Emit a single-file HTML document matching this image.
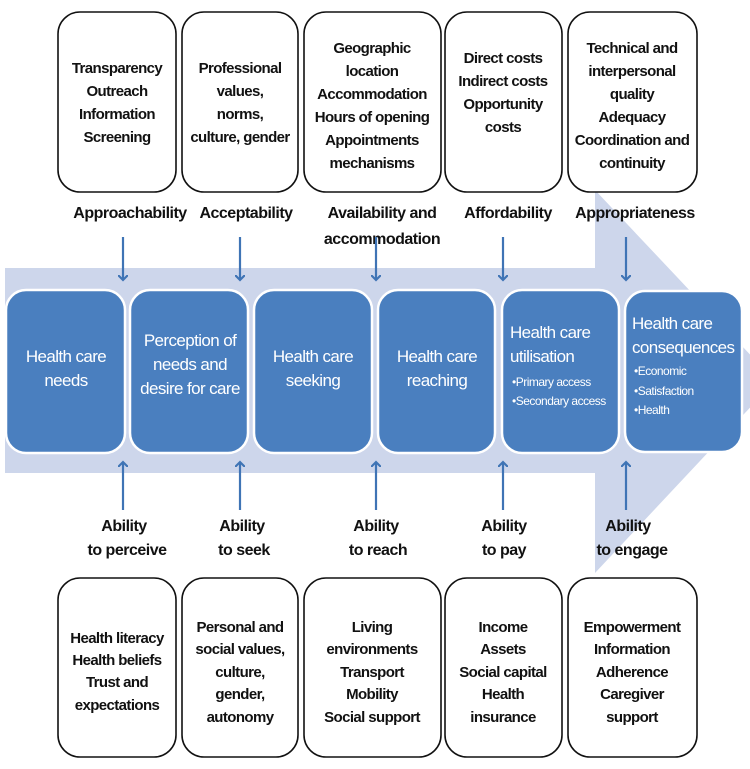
<!DOCTYPE html>
<html><head><meta charset="utf-8"><style>
html,body{margin:0;padding:0;background:#fff}
svg{display:block}
.k{font-family:"Liberation Sans",sans-serif;font-weight:bold;font-size:15px;fill:#111;text-anchor:middle;letter-spacing:-0.6px}
.l{font-family:"Liberation Sans",sans-serif;font-weight:bold;font-size:16px;fill:#111;text-anchor:middle;letter-spacing:-0.5px}
.w{font-family:"Liberation Sans",sans-serif;font-size:17px;fill:#fff;text-anchor:middle;letter-spacing:-0.6px}
.ws{font-family:"Liberation Sans",sans-serif;font-size:12px;fill:#fff;letter-spacing:-0.5px}
</style></head><body>
<svg width="750" height="769" viewBox="0 0 750 769" xmlns="http://www.w3.org/2000/svg">
<defs>
<marker id="a" markerWidth="10" markerHeight="10" refX="5" refY="5" orient="auto" markerUnits="userSpaceOnUse">
<path d="M0,0 L5,5 L0,10" fill="none" stroke="#3f74b5" stroke-width="2.2"/>
</marker>
</defs>
<polygon points="5,268 595,268 595,190 775,381 595,573 595,473 5,473" fill="#cdd6eb"/>
<g fill="#fff" stroke="#111" stroke-width="1.6">
<rect x="58" y="12" width="118" height="180" rx="22"/>
<rect x="182" y="12" width="116" height="180" rx="22"/>
<rect x="304" y="12" width="137" height="180" rx="22"/>
<rect x="445" y="12" width="117" height="180" rx="22"/>
<rect x="568" y="12" width="129" height="180" rx="22"/>
<rect x="58" y="578" width="118" height="179" rx="22"/>
<rect x="182" y="578" width="116" height="179" rx="22"/>
<rect x="304" y="578" width="137" height="179" rx="22"/>
<rect x="445" y="578" width="117" height="179" rx="22"/>
<rect x="568" y="578" width="129" height="179" rx="22"/>
</g>
<g class="k">
<text x="117" y="73">Transparency</text><text x="117" y="96">Outreach</text><text x="117" y="119">Information</text><text x="117" y="142">Screening</text>
<text x="240" y="73">Professional</text><text x="240" y="96">values,</text><text x="240" y="119">norms,</text><text x="240" y="142">culture, gender</text>
<text x="372" y="53">Geographic</text><text x="372" y="76">location</text><text x="372" y="99">Accommodation</text><text x="372" y="122">Hours of opening</text><text x="372" y="145">Appointments</text><text x="372" y="168">mechanisms</text>
<text x="503" y="63">Direct costs</text><text x="503" y="86">Indirect costs</text><text x="503" y="109">Opportunity</text><text x="503" y="132">costs</text>
<text x="632" y="53">Technical and</text><text x="632" y="76">interpersonal</text><text x="632" y="99">quality</text><text x="632" y="122">Adequacy</text><text x="632" y="145">Coordination and</text><text x="632" y="168">continuity</text>
<text x="117" y="643">Health literacy</text><text x="117" y="665">Health beliefs</text><text x="117" y="687">Trust and</text><text x="117" y="710">expectations</text>
<text x="240" y="632">Personal and</text><text x="240" y="654">social values,</text><text x="240" y="677">culture,</text><text x="240" y="699">gender,</text><text x="240" y="722">autonomy</text>
<text x="372" y="632">Living</text><text x="372" y="654">environments</text><text x="372" y="677">Transport</text><text x="372" y="699">Mobility</text><text x="372" y="722">Social support</text>
<text x="503" y="632">Income</text><text x="503" y="654">Assets</text><text x="503" y="677">Social capital</text><text x="503" y="699">Health</text><text x="503" y="722">insurance</text>
<text x="632" y="632">Empowerment</text><text x="632" y="654">Information</text><text x="632" y="677">Adherence</text><text x="632" y="699">Caregiver</text><text x="632" y="722">support</text>
</g>
<g class="l">
<text x="130" y="218">Approachability</text>
<text x="246" y="218">Acceptability</text>
<text x="382" y="218">Availability and</text><text x="382" y="244">accommodation</text>
<text x="508" y="218">Affordability</text>
<text x="635" y="218">Appropriateness</text>
<text x="124" y="531">Ability</text><text x="127" y="555">to perceive</text>
<text x="242" y="531">Ability</text><text x="244" y="555">to seek</text>
<text x="376" y="531">Ability</text><text x="378" y="555">to reach</text>
<text x="504" y="531">Ability</text><text x="504" y="555">to pay</text>
<text x="628" y="531">Ability</text><text x="632" y="555">to engage</text>
</g>
<g stroke="#3f74b5" stroke-width="2.2" marker-end="url(#a)">
<line x1="123" y1="237" x2="123" y2="280"/>
<line x1="240" y1="237" x2="240" y2="280"/>
<line x1="376" y1="237" x2="376" y2="280"/>
<line x1="503" y1="237" x2="503" y2="280"/>
<line x1="626" y1="237" x2="626" y2="280"/>
<line x1="123" y1="510" x2="123" y2="462"/>
<line x1="240" y1="510" x2="240" y2="462"/>
<line x1="376" y1="510" x2="376" y2="462"/>
<line x1="503" y1="510" x2="503" y2="462"/>
<line x1="626" y1="510" x2="626" y2="462"/>
</g>
<g fill="#4a7fbf" stroke="#fff" stroke-width="2.5">
<rect x="6" y="290" width="119" height="163" rx="20"/>
<rect x="130" y="290" width="118" height="163" rx="20"/>
<rect x="254" y="290" width="118" height="163" rx="20"/>
<rect x="378" y="290" width="117" height="163" rx="20"/>
<rect x="502" y="290" width="117" height="163" rx="20"/>
<rect x="625" y="291" width="117" height="161" rx="20"/>
</g>
<g class="w">
<text x="66" y="362">Health care</text><text x="66" y="386">needs</text>
<text x="190" y="346">Perception of</text><text x="190" y="370">needs and</text><text x="190" y="394">desire for care</text>
<text x="313" y="362">Health care</text><text x="313" y="386">seeking</text>
<text x="437" y="362">Health care</text><text x="437" y="386">reaching</text>
</g>
<g class="w" style="text-anchor:start">
<text x="510" y="338">Health care</text><text x="510" y="362">utilisation</text>
<text x="632" y="329">Health care</text><text x="632" y="353">consequences</text>
</g>
<g class="ws">
<text x="512" y="386">•Primary access</text><text x="512" y="405">•Secondary access</text>
<text x="634" y="375">•Economic</text><text x="634" y="395">•Satisfaction</text><text x="634" y="414">•Health</text>
</g>
</svg>
</body></html>
